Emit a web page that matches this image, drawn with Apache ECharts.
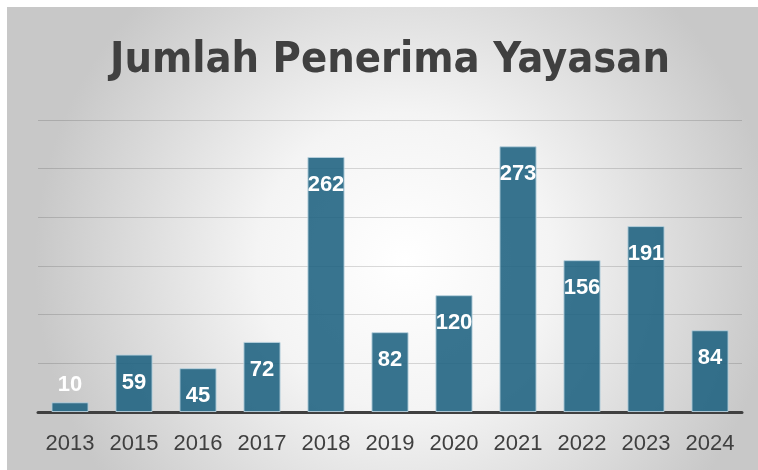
<!DOCTYPE html>
<html>
<head>
<meta charset="utf-8">
<script src="https://cdn.jsdelivr.net/npm/echarts@6/dist/echarts.min.js"></script>
<style>
  html, body { margin: 0; padding: 0; background: #fff; }
  #chart { position: absolute; left: 7px; top: 7px; width: 751px; height: 463px; }
</style>
</head>
<body>
<div id="chart"></div>
<script>
// data
const years = ['2013', '2015', '2016', '2017', '2018', '2019', '2020', '2021', '2022', '2023', '2024'];
const penerima = [10, 59, 45, 72, 262, 82, 120, 273, 156, 191, 84];
const yMax = 300;
const yStep = 50;

const chart = echarts.init(document.getElementById('chart'));

// the tiny 2013 bar gets its label above, the rest sit inside the bar
const barData = penerima.map((v, i) => (v < 30
  ? { value: v, label: { position: 'top', distance: 6 } }
  : v));

chart.setOption({
  animation: false,
  backgroundColor: {
    type: 'radial', x: 0.53, y: 0.55, r: 0.8,
    colorStops: [
      { offset: 0, color: '#ffffff' },
      { offset: 0.4, color: '#f4f4f4' },
      { offset: 1, color: '#c8c8c8' },
    ],
  },
  title: {
    text: 'Jumlah Penerima Yayasan',
    left: 98, top: 27,
    textStyle: {
      fontFamily: '"DejaVu Sans Condensed", "Liberation Sans Narrow", sans-serif',
      fontWeight: 'bold', fontSize: 43, color: '#404040',
    },
  },
  grid: { left: 31, right: 16, top: 113, bottom: 58 },
  xAxis: {
    type: 'category',
    data: years,
    axisTick: { show: false },
    axisLine: { lineStyle: { color: '#404040', width: 3 } },
    axisLabel: {
      color: '#404040', fontSize: 22, margin: 21,
      fontFamily: '"Liberation Sans", Arial, sans-serif',
    },
  },
  yAxis: {
    type: 'value',
    min: 0, max: yMax, interval: yStep,
    axisLabel: { show: false },
    axisLine: { show: false },
    axisTick: { show: false },
    splitLine: { lineStyle: { color: 'rgba(0,0,0,0.14)', width: 1 } },
  },
  series: [{
    type: 'bar',
    data: barData,
    barCategoryGap: '42%',
    itemStyle: {
      color: 'rgba(28,97,128,0.88)',
      borderColor: 'rgba(185,210,222,0.9)',
      borderWidth: 1,
    },
    label: {
      show: true, position: 'insideTop', distance: 17,
      color: '#ffffff', fontSize: 22, fontWeight: 'bold',
      fontFamily: '"Liberation Sans", Arial, sans-serif',
    },
  }],
});
</script>
</body>
</html>
